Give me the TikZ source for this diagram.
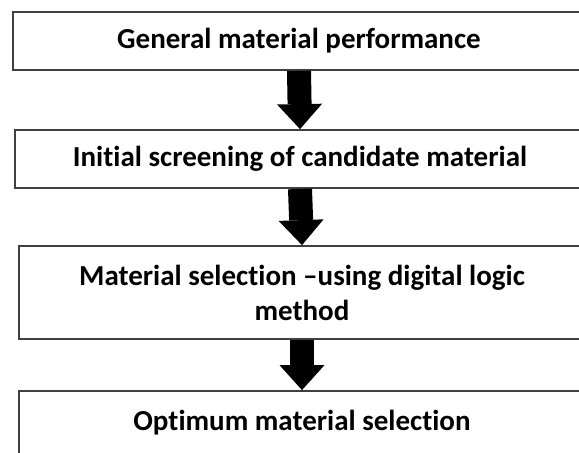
\documentclass[tikz,border=0pt]{standalone}
\usepackage{fontspec}
\setmainfont{Carlito}[RawFeature=-liga]
\usetikzlibrary{arrows.meta}

\begin{document}
\begin{tikzpicture}[x=1pt,y=-1pt,
    stage/.style={draw=black!75,line width=1.8pt,inner sep=0pt,minimum height=58pt,
      align=center,font=\bfseries\fontsize{29}{35}\selectfont},
    flow/.style={line width=24pt,-{Triangle[width=45pt,length=25pt,line width=0pt]}}]
  \useasboundingbox (0,0) rectangle (579,453);
  \clip (0,0) rectangle (579,453);
  \node[stage,minimum width=572pt] (perf) at (299,41) {General material performance};
  \node[stage,minimum width=570pt] (screen) at (300,159) {Initial screening of candidate material};
  \node[stage,minimum width=566pt,minimum height=93pt] (select) at (302,292.5)
    {Material selection –using digital logic\\method};
  \node[stage,minimum width=566pt,minimum height=74pt] (optimum) at (302,428)
    {\raisebox{16pt}{Optimum material selection}};
  \draw[flow] (perf.south) -- (screen.north);
  \draw[flow] (screen.south) -- (select.north);
  \draw[flow] (select.south) -- (optimum.north);
\end{tikzpicture}
\end{document}
